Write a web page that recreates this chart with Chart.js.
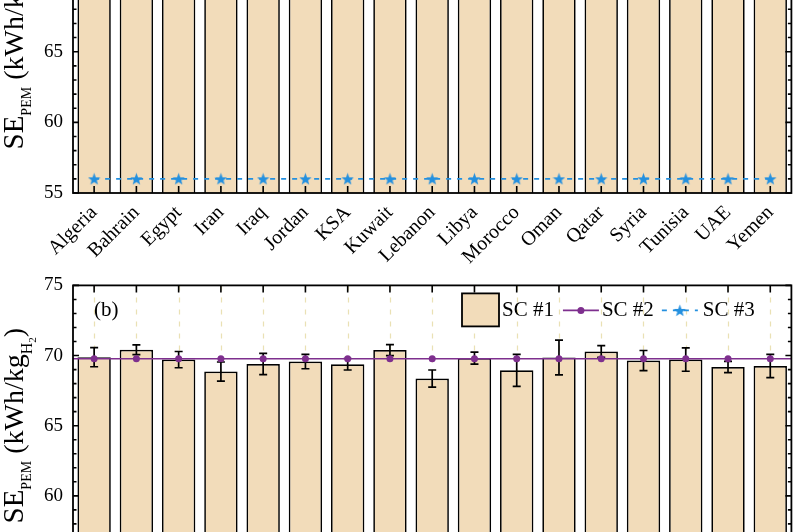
<!DOCTYPE html>
<html>
<head>
<meta charset="utf-8">
<script src="https://cdn.jsdelivr.net/npm/chart.js@4.4.1/dist/chart.umd.min.js"></script>
<style>
  html, body { margin: 0; padding: 0; background: #fff; }
  body { width: 797px; height: 532px; overflow: hidden; position: relative; }
  .panel { position: absolute; left: 0; width: 797px; }
  #wrapA { top: -111px; height: 380px; }
  #wrapB { top: 264px; height: 420px; }
</style>
</head>
<body>
<div class="panel" id="wrapA"><canvas id="chartA" width="797" height="380"></canvas></div>
<div class="panel" id="wrapB"><canvas id="chartB" width="797" height="420"></canvas></div>
<script>
// data
const countries = ['Algeria', 'Bahrain', 'Egypt', 'Iran', 'Iraq', 'Jordan', 'KSA', 'Kuwait', 'Lebanon',
  'Libya', 'Morocco', 'Oman', 'Qatar', 'Syria', 'Tunisia', 'UAE', 'Yemen'];
const seriesNames = ['SC #1', 'SC #2', 'SC #3'];
const yTicks = [55, 60, 65, 70, 75];

// panel (a) - upper part is cropped in the picture
const sc1A = [71.2, 71.6, 71.1, 70.6, 70.9, 71.0, 70.8, 71.6, 70.4, 71.2, 70.7, 71.2, 71.5, 71.0, 71.1, 70.8, 70.8];
const errA = [0.7, 0.35, 0.55, 0.7, 0.75, 0.5, 0.4, 0.4, 0.6, 0.45, 1.1, 1.2, 0.4, 0.7, 0.85, 0.4, 0.8];
const sc2A = [69.8, 69.8, 69.8, 69.8, 69.8, 69.8, 69.8, 69.8, 69.8, 69.8, 69.8, 69.8, 69.8, 69.8, 69.8, 69.8, 69.8];
const sc3A = [56, 56, 56, 56, 56, 56, 56, 56, 56, 56, 56, 56, 56, 56, 56, 56, 56];

// panel (b)
const sc1B = [69.88, 70.41, 69.71, 68.86, 69.40, 69.57, 69.38, 70.39, 68.36, 69.82, 68.95, 69.86, 70.29, 69.64, 69.71, 69.18, 69.25];
const errB = [0.68, 0.35, 0.58, 0.68, 0.76, 0.51, 0.41, 0.39, 0.61, 0.43, 1.14, 1.24, 0.42, 0.72, 0.83, 0.40, 0.83];
const sc2B = [69.77, 69.77, 69.77, 69.77, 69.77, 69.77, 69.77, 69.77, 69.77, 69.77, 69.77, 69.77, 69.77, 69.77, 69.77, 69.77, 69.77];
const sc3B = [56, 56, 56, 56, 56, 56, 56, 56, 56, 56, 56, 56, 56, 56, 56, 56, 56];

const BAR_FILL = '#F2DCBA';
const PURPLE = '#7E2F8E';
const BLUE = '#2490DF';
const SERIF = "'Liberation Serif', 'Times New Roman', serif";

Chart.defaults.font.family = SERIF;
Chart.defaults.color = '#000';

// filled five point star used as point style
function makeStar(size, color) {
  const c = document.createElement('canvas');
  c.width = size; c.height = size;
  const g = c.getContext('2d');
  const cx = size / 2, cy = size / 2 + 0.6, ro = size / 2, ri = ro * 0.42;
  g.beginPath();
  for (let k = 0; k < 10; k++) {
    const r = k % 2 ? ri : ro;
    const a = -Math.PI / 2 + k * Math.PI / 5;
    g.lineTo(cx + r * Math.cos(a), cy + r * Math.sin(a));
  }
  g.closePath();
  g.fillStyle = color;
  g.fill();
  return c;
}
const starImg = makeStar(13, BLUE);

function drawYTitle(ctx, area) {
  const parts = [
    { t: 'SE', size: 29, dy: 0 },
    { t: 'PEM', size: 14, dy: 8 },
    { t: ' (kWh/kg', size: 28, dy: 0 },
    { t: 'H', size: 16, dy: 9 },
    { t: '2', size: 11, dy: 13 },
    { t: ')', size: 28, dy: 0 }
  ];
  let total = 0;
  parts.forEach(p => { ctx.font = p.size + 'px ' + SERIF; p.w = ctx.measureText(p.t).width; total += p.w; });
  ctx.save();
  ctx.translate(23, (area.top + area.bottom) / 2);
  ctx.rotate(-Math.PI / 2);
  ctx.fillStyle = '#000';
  ctx.textBaseline = 'alphabetic';
  let x = -total / 2;
  parts.forEach(p => {
    ctx.font = p.size + 'px ' + SERIF;
    ctx.fillText(p.t, x, p.dy);
    x += p.w;
  });
  ctx.restore();
}

function drawLegend(ctx, area) {
  const cy = area.top + 25;
  let x = area.left + 389;
  ctx.save();
  ctx.font = '21px ' + SERIF;
  ctx.textBaseline = 'middle';
  // SC #1 patch
  ctx.fillStyle = BAR_FILL;
  ctx.fillRect(x, cy - 17, 37, 33);
  ctx.strokeStyle = '#000';
  ctx.lineWidth = 1.8;
  ctx.strokeRect(x, cy - 17, 37, 33);
  x += 40;
  ctx.fillStyle = '#000';
  ctx.fillText(seriesNames[0], x, cy);
  x += ctx.measureText(seriesNames[0]).width + 9;
  // SC #2
  ctx.strokeStyle = PURPLE;
  ctx.lineWidth = 1.6;
  ctx.beginPath(); ctx.moveTo(x, cy); ctx.lineTo(x + 36, cy); ctx.stroke();
  ctx.fillStyle = PURPLE;
  ctx.beginPath(); ctx.arc(x + 18, cy, 3.5, 0, Math.PI * 2); ctx.fill();
  x += 39;
  ctx.fillStyle = '#000';
  ctx.fillText(seriesNames[1], x, cy);
  x += ctx.measureText(seriesNames[1]).width + 8;
  // SC #3
  ctx.strokeStyle = BLUE;
  ctx.setLineDash([5, 6]);
  ctx.beginPath(); ctx.moveTo(x, cy); ctx.lineTo(x + 36, cy); ctx.stroke();
  ctx.setLineDash([]);
  ctx.drawImage(starImg, x + 18 - starImg.width / 2, cy - starImg.height / 2);
  x += 41;
  ctx.fillStyle = '#000';
  ctx.fillText(seriesNames[2], x, cy);
  ctx.restore();
}

const panelDecor = {
  id: 'panelDecor',
  beforeDatasetsDraw(chart) {
    const { ctx, chartArea: a, scales: { x } } = chart;
    ctx.save();
    ctx.strokeStyle = 'rgba(220, 205, 130, 0.6)';
    ctx.lineWidth = 1.2;
    ctx.setLineDash([5, 7]);
    countries.forEach((c, i) => {
      const px = Math.round(x.getPixelForValue(i)) + 0.5;
      ctx.beginPath(); ctx.moveTo(px, a.top); ctx.lineTo(px, a.bottom); ctx.stroke();
    });
    ctx.restore();
  },
  afterDatasetDraw(chart, args, opts) {
    if (args.index !== 0) return;
    const { ctx, chartArea: a, scales: { y } } = chart;
    const vals = chart.data.datasets[0].data;
    ctx.save();
    ctx.beginPath();
    ctx.rect(a.left, a.top, a.right - a.left, a.bottom - a.top);
    ctx.clip();
    // error bars
    ctx.strokeStyle = '#000';
    ctx.lineWidth = 1.7;
    args.meta.data.forEach((bar, i) => {
      const yt = y.getPixelForValue(vals[i] + opts.errors[i]);
      const yb = y.getPixelForValue(vals[i] - opts.errors[i]);
      ctx.beginPath();
      ctx.moveTo(bar.x, yt); ctx.lineTo(bar.x, yb);
      ctx.moveTo(bar.x - 4, yt); ctx.lineTo(bar.x + 4, yt);
      ctx.moveTo(bar.x - 4, yb); ctx.lineTo(bar.x + 4, yb);
      ctx.stroke();
    });
    // SC #2 line runs to both frame edges
    const pts = chart.getDatasetMeta(1).data;
    if (pts.length) {
      ctx.strokeStyle = PURPLE;
      ctx.lineWidth = 1.6;
      ctx.beginPath();
      ctx.moveTo(a.left, pts[0].y); ctx.lineTo(pts[0].x, pts[0].y);
      const last = pts[pts.length - 1];
      ctx.moveTo(last.x, last.y); ctx.lineTo(a.right, last.y);
      ctx.stroke();
    }
    ctx.restore();
  },
  afterDraw(chart, args, opts) {
    const { ctx, chartArea: a, scales: { x, y } } = chart;
    ctx.save();
    ctx.strokeStyle = '#000';
    ctx.lineWidth = 1.8;
    ctx.strokeRect(a.left, a.top, a.right - a.left, a.bottom - a.top);
    ctx.lineWidth = 1.6;
    ctx.beginPath();
    // y ticks, minor every 1, major at labels
    for (let v = y.min; v <= y.max; v += 1) {
      const py = y.getPixelForValue(v);
      const len = yTicks.includes(v) ? 6 : 3.5;
      ctx.moveTo(a.left, py); ctx.lineTo(a.left + len, py);
      ctx.moveTo(a.right, py); ctx.lineTo(a.right - len, py);
    }
    // x ticks at category centres
    countries.forEach((c, i) => {
      const px = x.getPixelForValue(i);
      ctx.moveTo(px, a.bottom); ctx.lineTo(px, a.bottom - 7);
      ctx.moveTo(px, a.top); ctx.lineTo(px, a.top + 7);
    });
    ctx.stroke();
    ctx.restore();

    drawYTitle(ctx, a);

    ctx.save();
    ctx.font = '21px ' + SERIF;
    ctx.fillStyle = '#000';
    ctx.textBaseline = 'middle';
    ctx.fillText(opts.label, a.left + 21, a.top + 25);
    ctx.restore();

    if (opts.legend) drawLegend(ctx, a);
  }
};

function makeChart(id, sc1, sc2, sc3, errs, label, legend, xHeight) {
  return new Chart(document.getElementById(id), {
    type: 'bar',
    data: {
      labels: countries,
      datasets: [
        {
          label: seriesNames[0], data: sc1, order: 2,
          backgroundColor: BAR_FILL, borderColor: '#000', borderWidth: 1.7, borderSkipped: false,
          barPercentage: 0.79, categoryPercentage: 1.0
        },
        {
          type: 'line', label: seriesNames[1], data: sc2, order: 1,
          borderColor: PURPLE, borderWidth: 1.6, pointRadius: 3.5,
          pointBackgroundColor: PURPLE, pointBorderWidth: 0
        },
        {
          type: 'line', label: seriesNames[2], data: sc3, order: 0,
          borderColor: BLUE, borderWidth: 1.6, borderDash: [5, 6],
          pointStyle: starImg
        }
      ]
    },
    options: {
      responsive: false,
      animation: false,
      devicePixelRatio: 1,
      layout: { padding: { top: 10, right: 4, left: 0, bottom: 0 } },
      scales: {
        x: {
          grid: { display: false, drawTicks: false },
          border: { display: false },
          ticks: { autoSkip: false, minRotation: 45, maxRotation: 45, padding: 8, font: { size: 20 }, color: '#000' },
          afterFit(s) { s.height = xHeight; }
        },
        y: {
          min: 55, max: 75,
          grid: { display: false, drawTicks: false },
          border: { display: false },
          ticks: { padding: 10, font: { size: 19 }, color: '#000' },
          afterBuildTicks(s) { s.ticks = yTicks.map(v => ({ value: v })); },
          afterFit(s) { s.width = 73; }
        }
      },
      plugins: {
        legend: { display: false },
        tooltip: { enabled: false },
        panelDecor: { errors: errs, label: label, legend: legend }
      }
    },
    plugins: [panelDecor]
  });
}

makeChart('chartA', sc1A, sc2A, sc3A, errA, '(a)', false, 76);
makeChart('chartB', sc1B, sc2B, sc3B, errB, '(b)', true, 118);
</script>
</body>
</html>
